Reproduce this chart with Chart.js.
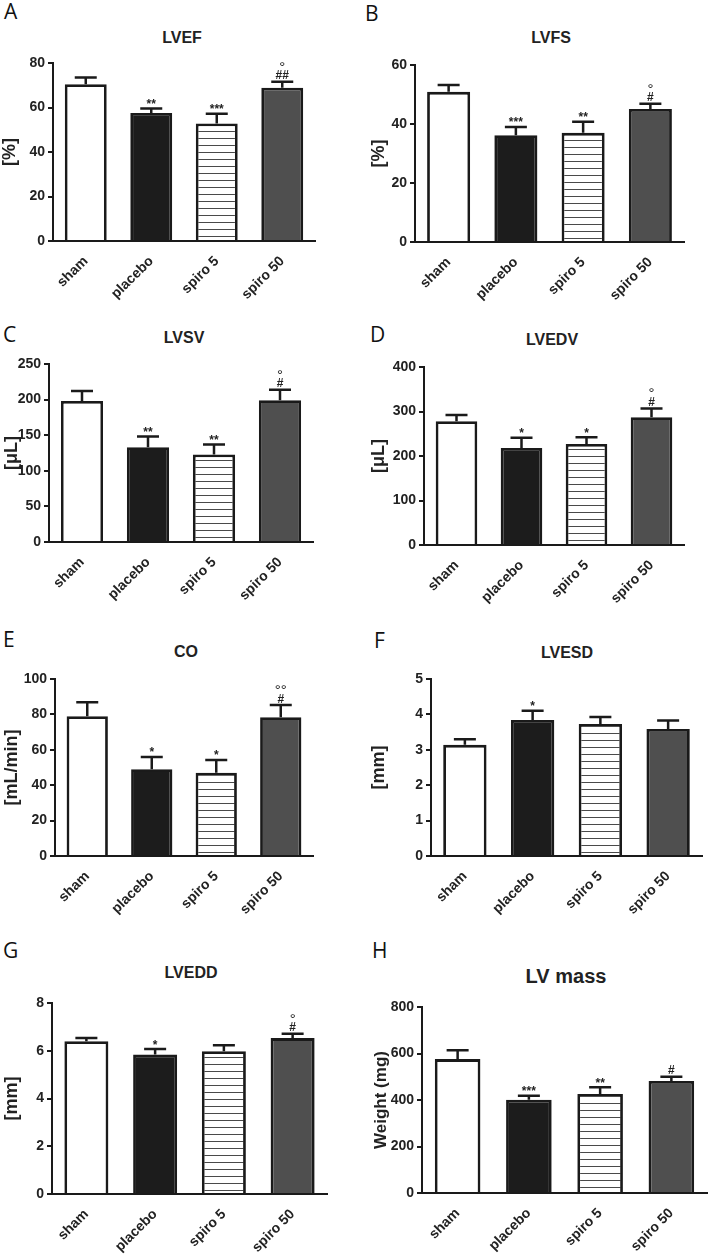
<!DOCTYPE html>
<html>
<head>
<meta charset="utf-8">
<script src="https://cdn.jsdelivr.net/npm/chart.js@4.4.1/dist/chart.umd.min.js"></script>
<style>
  html, body { margin: 0; padding: 0; background: #fff; }
  #page { position: relative; width: 709px; height: 1255px; overflow: hidden; color: #222; }
  .letter { position: absolute; font-family: 'Open Sans', 'Noto Sans', sans-serif; font-size: 21px; line-height: 21px; color: #111; }
  .title { position: absolute; font-family: 'Liberation Sans', Arial, sans-serif; font-weight: bold; line-height: 1; transform: translate(-50%, -50%); white-space: nowrap; }
  canvas { position: absolute; }
</style>
</head>
<body>
<div id="page"></div>
<script>
const groups = ['sham', 'placebo', 'spiro 5', 'spiro 50'];

// A - LVEF
const lvefMean = [70.5, 57.5, 52.8, 68.9];
const lvefSem = [3.0, 2.0, 4.4, 2.7];
const lvefMarks = [[], ['**'], ['***'], ['°', '##']];
const lvefTicks = [0, 20, 40, 60, 80];

// B - LVFS
const lvfsMean = [50.9, 36.2, 37.0, 45.1];
const lvfsSem = [2.3, 2.8, 3.8, 1.8];
const lvfsMarks = [[], ['***'], ['**'], ['°', '#']];
const lvfsTicks = [0, 20, 40, 60];

// C - LVSV
const lvsvMean = [198, 133, 123, 199];
const lvsvSem = [14, 15, 14, 15];
const lvsvMarks = [[], ['**'], ['**'], ['°', '#']];
const lvsvTicks = [0, 50, 100, 150, 200, 250];

// D - LVEDV
const lvedvMean = [278, 218, 227, 287];
const lvedvSem = [14, 23, 15, 20];
const lvedvMarks = [[], ['*'], ['*'], ['°', '#']];
const lvedvTicks = [0, 100, 200, 300, 400];

// E - CO
const coMean = [79, 49, 47, 78.4];
const coSem = [7.8, 7, 7.3, 6.9];
const coMarks = [[], ['*'], ['*'], ['°°', '#']];
const coTicks = [0, 20, 40, 60, 80, 100];

// F - LVESD
const lvesdMean = [3.14, 3.84, 3.73, 3.59];
const lvesdSem = [0.16, 0.26, 0.20, 0.24];
const lvesdMarks = [[], ['*'], [], []];
const lvesdTicks = [0, 1, 2, 3, 4, 5];

// G - LVEDD
const lveddMean = [6.40, 5.84, 5.98, 6.53];
const lveddSem = [0.13, 0.23, 0.25, 0.18];
const lveddMarks = [[], ['*'], [], ['°', '#']];
const lveddTicks = [0, 2, 4, 6, 8];

// H - LV mass
const massMean = [576, 401, 426, 482];
const massSem = [38, 17, 29, 18];
const massMarks = [[], ['***'], ['**'], ['#']];
const massTicks = [0, 200, 400, 600, 800];

const FONT = "'Liberation Sans', Arial, sans-serif";
const INK = '#1a1a1a';

// where each panel sits on the page
const panels = [
  { letter: 'A', title: 'LVEF', yTitle: '[%]', mean: lvefMean, sem: lvefSem, marks: lvefMarks, ticks: lvefTicks,
    ax: 53, top: 63, zero: 241, right: 315, yTitleX: 10, tx: 182, ty: 38, lx: 4, ly: 12 },
  { letter: 'B', title: 'LVFS', yTitle: '[%]', mean: lvfsMean, sem: lvfsSem, marks: lvfsMarks, ticks: lvfsTicks,
    ax: 415, top: 65, zero: 242, right: 684, yTitleX: 379, tx: 551, ty: 38, lx: 365, ly: 14 },
  { letter: 'C', title: 'LVSV', yTitle: '[μL]', mean: lvsvMean, sem: lvsvSem, marks: lvsvMarks, ticks: lvsvTicks,
    ax: 49, top: 364, zero: 542, right: 313, yTitleX: 12, tx: 184, ty: 338, lx: 3, ly: 335 },
  { letter: 'D', title: 'LVEDV', yTitle: '[μL]', mean: lvedvMean, sem: lvedvSem, marks: lvedvMarks, ticks: lvedvTicks,
    ax: 424, top: 367, zero: 545, right: 684, yTitleX: 379, tx: 552, ty: 340, lx: 370, ly: 335 },
  { letter: 'E', title: 'CO', yTitle: '[mL/min]', mean: coMean, sem: coSem, marks: coMarks, ticks: coTicks,
    ax: 55, top: 679, zero: 856, right: 313, yTitleX: 12, tx: 186, ty: 652, lx: 3, ly: 640 },
  { letter: 'F', title: 'LVESD', yTitle: '[mm]', mean: lvesdMean, sem: lvesdSem, marks: lvesdMarks, ticks: lvesdTicks,
    ax: 431, top: 679, zero: 856, right: 702, yTitleX: 379, tx: 567, ty: 653, lx: 374, ly: 641 },
  { letter: 'G', title: 'LVEDD', yTitle: '[mm]', mean: lveddMean, sem: lveddSem, marks: lveddMarks, ticks: lveddTicks,
    ax: 52, top: 1003, zero: 1194, right: 327, yTitleX: 12, tx: 191, ty: 973, lx: 3, ly: 951 },
  { letter: 'H', title: 'LV mass', yTitle: 'Weight (mg)', mean: massMean, sem: massSem, marks: massMarks, ticks: massTicks,
    ax: 422, top: 1007, zero: 1193, right: 707, yTitleX: 381, tx: 566, ty: 976, lx: 372, ly: 951, titleSize: 20 },
];

function stripes() {
  const c = document.createElement('canvas');
  c.width = 4;
  c.height = 7;
  const g = c.getContext('2d');
  g.fillStyle = '#ffffff';
  g.fillRect(0, 0, 4, 7);
  g.fillStyle = '#4a4a4a';
  g.fillRect(0, 3, 4, 1);
  return g.createPattern(c, 'repeat');
}

// upper error bar + significance marks above it
const errorBars = {
  id: 'errorBars',
  afterDatasetsDraw(chart) {
    const ctx = chart.ctx;
    const y = chart.scales.y;
    const ds = chart.data.datasets[0];
    const meta = chart.getDatasetMeta(0);
    ctx.save();
    ctx.strokeStyle = INK;
    ctx.fillStyle = '#222';
    ctx.lineWidth = 2.5;
    ctx.textAlign = 'center';
    ctx.textBaseline = 'alphabetic';
    meta.data.forEach((bar, i) => {
      const yTop = y.getPixelForValue(ds.data[i] + ds.sem[i]);
      ctx.beginPath();
      ctx.moveTo(bar.x, bar.y);
      ctx.lineTo(bar.x, yTop);
      ctx.moveTo(bar.x - 11, yTop);
      ctx.lineTo(bar.x + 11, yTop);
      ctx.stroke();

      let cy = yTop - 7;
      const marks = ds.marks[i];
      for (let k = marks.length - 1; k >= 0; k--) {
        const s = marks[k];
        ctx.font = s.indexOf('°') >= 0 ? '15px ' + FONT : 'bold 12px ' + FONT;
        const m = ctx.measureText(s);
        ctx.fillText(s, bar.x, cy + (m.actualBoundingBoxAscent - m.actualBoundingBoxDescent) / 2);
        cy -= 11;
      }
    });
    ctx.restore();
  }
};

const page = document.getElementById('page');
const Y_W = 66;
const X_H = 62;
const PAD_TOP = 12;

panels.forEach(p => {
  const letter = document.createElement('div');
  letter.className = 'letter';
  letter.textContent = p.letter;
  letter.style.left = p.lx + 'px';
  letter.style.top = (p.ly - 11) + 'px';
  page.appendChild(letter);

  const title = document.createElement('div');
  title.className = 'title';
  title.textContent = p.title;
  title.style.left = p.tx + 'px';
  title.style.top = p.ty + 'px';
  title.style.fontSize = (p.titleSize || 16) + 'px';
  page.appendChild(title);

  const cv = document.createElement('canvas');
  const left = p.ax - Y_W;
  const w = p.right - left + 2;
  const h = p.zero - p.top + PAD_TOP + X_H;
  cv.width = w;
  cv.height = h;
  cv.style.left = left + 'px';
  cv.style.top = (p.top - PAD_TOP) + 'px';
  cv.style.width = w + 'px';
  cv.style.height = h + 'px';
  page.appendChild(cv);

  const ySize = p.letter === 'H' ? 17 : 18;
  const titlePad = p.yTitleX - left - ySize * 1.2 / 2;

  new Chart(cv, {
    type: 'bar',
    data: {
      labels: groups,
      datasets: [{
        data: p.mean,
        sem: p.sem,
        marks: p.marks,
        backgroundColor: ['#ffffff', '#1c1c1c', stripes(), '#4f4f4f'],
        borderColor: INK,
        borderWidth: 2.8,
        barPercentage: 0.64,
        categoryPercentage: 1
      }]
    },
    options: {
      responsive: false,
      animation: false,
      devicePixelRatio: 1,
      layout: { padding: { top: PAD_TOP, left: 0, right: 2, bottom: 0 } },
      plugins: {
        legend: { display: false },
        tooltip: { enabled: false }
      },
      scales: {
        x: {
          offset: true,
          grid: { display: false },
          border: { display: true, color: INK, width: 2 },
          ticks: {
            color: '#222',
            font: { family: FONT, weight: 'bold', size: 14 },
            minRotation: 45,
            maxRotation: 45,
            padding: 4
          },
          afterFit: s => { s.height = X_H; }
        },
        y: {
          min: p.ticks[0],
          max: p.ticks[p.ticks.length - 1],
          afterBuildTicks: s => { s.ticks = p.ticks.map(v => ({ value: v })); },
          afterFit: s => { s.width = Y_W; },
          grid: { display: true, drawOnChartArea: false, drawTicks: true, tickLength: 5, color: INK, lineWidth: 2 },
          border: { display: true, color: INK, width: 2 },
          ticks: { color: '#222', font: { family: FONT, weight: 'bold', size: 14 }, padding: 3 },
          title: {
            display: true,
            text: p.yTitle,
            color: '#222',
            font: { family: FONT, weight: 'bold', size: ySize, lineHeight: 1.2 },
            padding: { top: titlePad, bottom: 0 }
          }
        }
      }
    },
    plugins: [errorBars]
  });
});
</script>
</body>
</html>
